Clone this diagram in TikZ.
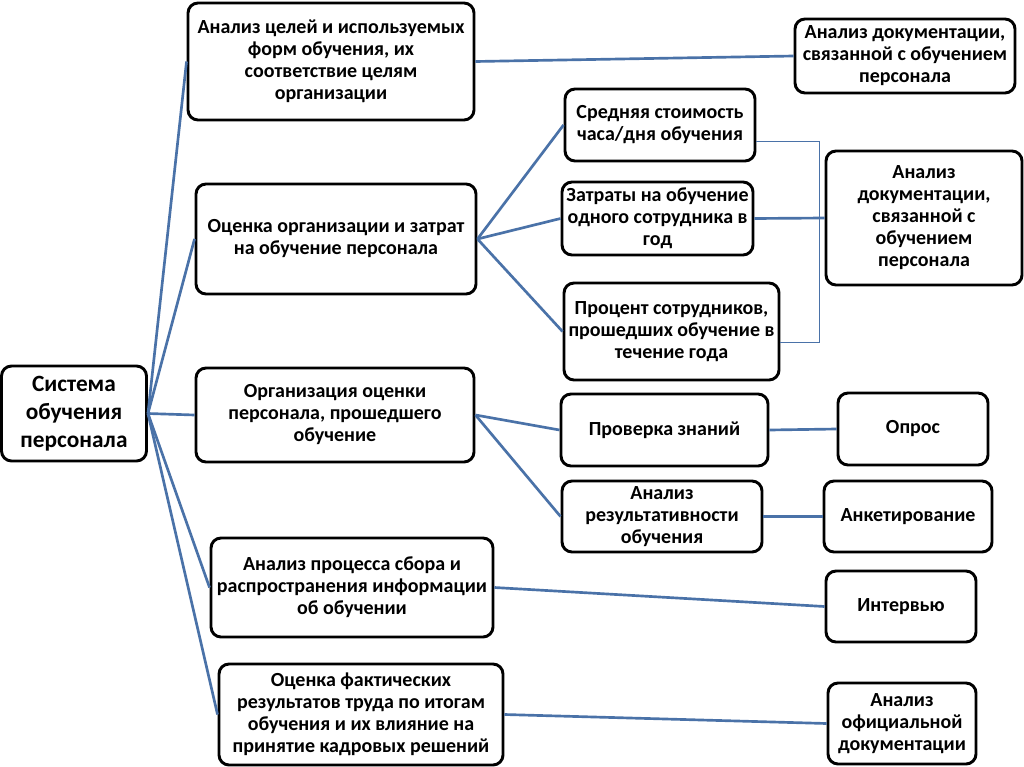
\documentclass[tikz,border=0pt]{standalone}
\usepackage{fontspec}
\setmainfont{Carlito}
\tikzset{
  x=0.75pt, y=-0.75pt,
  box/.style={draw=black, line width=2.2pt, rounded corners=7.5pt, fill=white, align=center,
    font=\bfseries\fontsize{15}{16.5}\selectfont, inner sep=0pt},
  rootbox/.style={box, font=\bfseries\fontsize{17.5}{21}\selectfont},
  link/.style={draw={rgb,255:red,74;green,114;blue,168}, line width=2pt},
  thin/.style={draw={rgb,255:red,74;green,114;blue,168}, line width=0.6pt},
}
\newcommand{\bx}[6]{\node[#1, minimum width=#4*0.75pt, minimum height=#5*0.75pt] (#2) at #3 {#6};}
\begin{document}
\begin{tikzpicture}
\useasboundingbox[fill=white] (0,0) rectangle (1024,767);
\bx{rootbox}{root}{(74,413.5)}{145}{95}{Система\\обучения\\персонала}
\bx{box}{a1}{(331,61.5)}{286}{117}{Анализ целей и используемых\\форм обучения, их\\соответствие целям\\организации}
\bx{box}{a2}{(336,239)}{280}{110}{Оценка организации и затрат\\на обучение персонала}
\bx{box}{a3}{(335,415)}{278}{94}{Организация оценки\\персонала, прошедшего\\обучение}
\bx{box}{a4}{(352,587.5)}{282}{99}{Анализ процесса сбора и\\распространения информации\\об обучении}
\bx{box}{a5}{(361,714.5)}{284}{101}{Оценка фактических\\результатов труда по итогам\\обучения и их влияние на\\принятие кадровых решений}
\bx{box}{r1}{(905,56)}{220}{74}{Анализ документации,\\связанной с обучением\\персонала}
\bx{box}{b1}{(660,125)}{190}{72}{Средняя стоимость\\часа/дня обучения}
\bx{box}{b2}{(657.5,218.5)}{191}{73}{Затраты на обучение\\одного сотрудника в\\год}
\bx{box}{b3}{(671.5,331.5)}{215}{97}{Процент сотрудников,\\прошедших обучение в\\течение года}
\bx{box}{r2}{(924,218)}{196}{134}{Анализ\\документации,\\связанной с\\обучением\\персонала}
\bx{box}{c1}{(664.5,430)}{207}{72}{Проверка знаний}
\bx{box}{c2}{(662,516.5)}{200}{71}{Анализ\\результативности\\обучения}
\bx{box}{d1}{(913,429)}{150}{72}{Опрос}
\bx{box}{d2}{(908,516.5)}{168}{71}{Анкетирование}
\bx{box}{d3}{(901,606.5)}{150}{71}{Интервью}
\bx{box}{d4}{(902,723.5)}{148}{81}{Анализ\\официальной\\документации}
\coordinate (brt) at (819,141);
\coordinate (brb) at (819,342);
\draw[link] (root.east) -- (a1.west);
\draw[link] (root.east) -- (a2.west);
\draw[link] (root.east) -- (a3.west);
\draw[link] (root.east) -- (a4.west);
\draw[link] (root.east) -- (a5.west);
\draw[link] (a1.east) -- (r1.west);
\draw[link] (a2.east) -- (b1.west);
\draw[link] (a2.east) -- (b2.west);
\draw[link] (a2.east) -- (b3.west);
\draw[link] (b2.east) -- (r2.west);
\draw[thin] (b1.east |- brt) -- (brt) -- (brb) -- (b3.east |- brb);
\draw[link] (a3.east) -- (c1.west);
\draw[link] (a3.east) -- (c2.west);
\draw[link] (c1.east) -- (d1.west);
\draw[link] (c2.east) -- (d2.west);
\draw[link] (a4.east) -- (d3.west);
\draw[link] (a5.east) -- (d4.west);
\end{tikzpicture}
\end{document}
